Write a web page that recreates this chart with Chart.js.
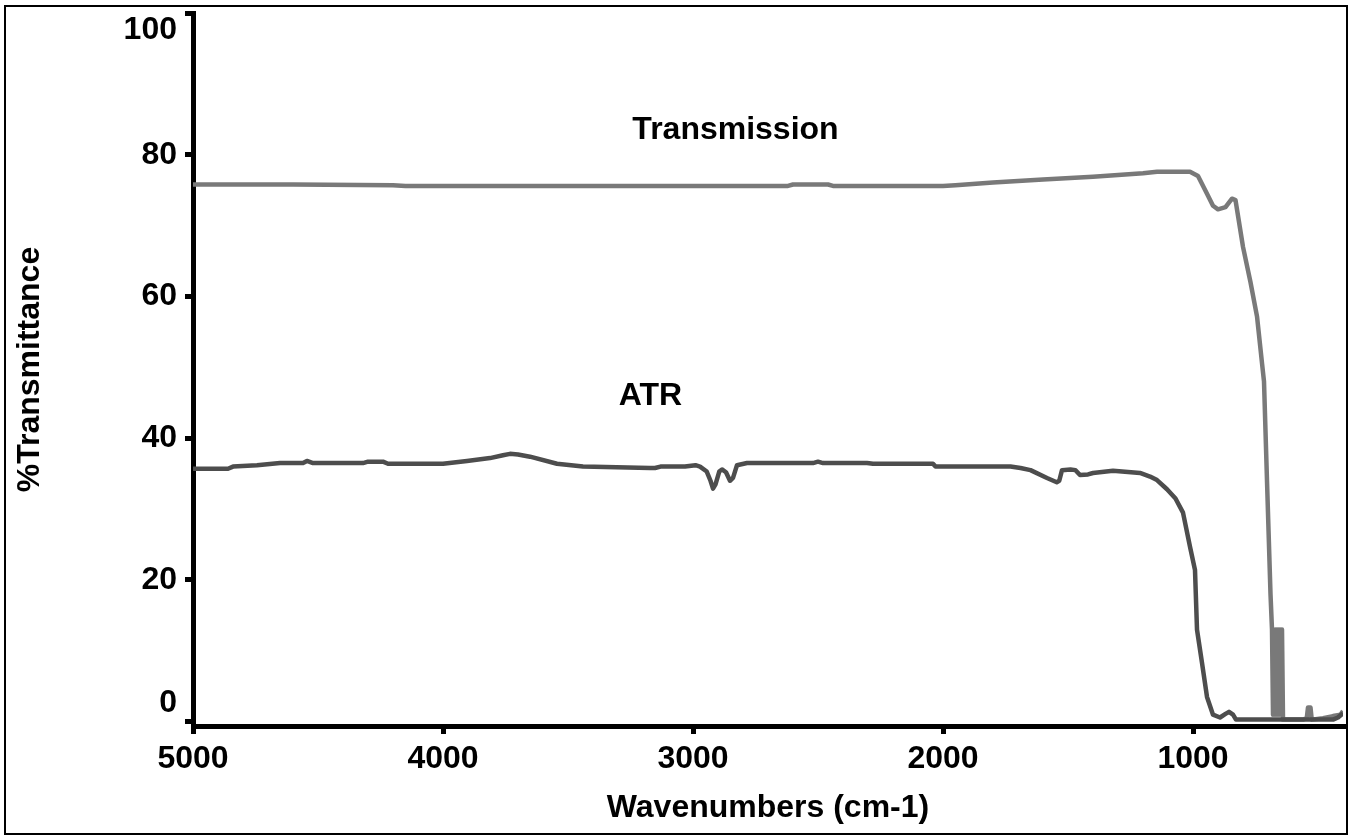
<!DOCTYPE html>
<html lang="en">
<head>
    <meta charset="UTF-8">
    <title>ATR vs Transmission Spectrum</title>
    <script src="https://cdn.jsdelivr.net/npm/chart.js"></script>
    <style>
        body {
            margin: 0;
            background-color: #fff;
        }
        #chartBox {
            width: 1350px;
            height: 836px;
        }
    </style>
</head>
<body>
    <div id="chartBox">
        <canvas id="spectrumChart" width="1350" height="836"></canvas>
    </div>

    <script>
        // Tick values
        var xTicks = [5000, 4000, 3000, 2000, 1000];
        var yTicks = [0, 20, 40, 60, 80, 100];

        // ATR spectrum (wavenumber, %T)
        var atrWn = [5000, 4860, 4840, 4744, 4652, 4560, 4544, 4520, 4320, 4300, 4240, 4220, 4000, 3904, 3812, 3760, 3732, 3700,
            3652, 3544, 3440, 3172, 3152, 3130, 3032, 2990, 2972, 2945, 2930, 2920, 2910, 2895, 2884, 2868, 2852, 2840,
            2824, 2784, 2520, 2500, 2480, 2304, 2280, 2040, 2030, 1730, 1690, 1650, 1584, 1545, 1535, 1524, 1490, 1470,
            1452, 1420, 1400, 1320, 1212, 1172, 1144, 1104, 1070, 1040, 1012, 992, 984, 964, 944, 920, 892, 870, 856,
            840, 828, 600, 440, 420, 400];
        var atrPct = [35.7, 35.7, 36.0, 36.2, 36.5, 36.5, 36.8, 36.5, 36.5, 36.7, 36.7, 36.4, 36.4, 36.8, 37.2, 37.6, 37.8, 37.7,
            37.4, 36.4, 36.0, 35.8, 35.8, 36.0, 36.0, 36.2, 36.0, 35.3, 34.0, 32.9, 33.5, 35.3, 35.6, 35.2, 34.0, 34.4,
            36.2, 36.5, 36.5, 36.7, 36.5, 36.5, 36.4, 36.4, 36.0, 36.0, 35.8, 35.5, 34.4, 33.8, 34.0, 35.5, 35.6, 35.5,
            34.8, 34.9, 35.1, 35.4, 35.1, 34.6, 34.1, 32.8, 31.5, 29.5, 24.7, 21.4, 13.0, 8.3, 3.5, 1.0, 0.6, 1.1, 1.4,
            1.0, 0.3, 0.3, 0.3, 0.6, 1.2];

        // Transmission spectrum (wavenumber, %T)
        var transWn = [5000, 4600, 4200, 4150, 3000, 2620, 2600, 2460, 2440, 2000, 1950, 1800, 1600, 1400, 1200, 1144, 1012,
            980, 944, 920, 900, 870, 844, 830, 800, 770, 744, 724, 716, 704, 690, 684, 680, 676, 672, 668, 664, 660,
            656, 652, 648, 644, 640, 620, 560, 545, 540, 530, 525, 480, 440, 410, 400];
        var transPct = [75.8, 75.8, 75.7, 75.6, 75.6, 75.6, 75.8, 75.8, 75.6, 75.6, 75.7, 76.1, 76.5, 76.9, 77.4, 77.6, 77.6,
            77.0, 74.5, 72.8, 72.3, 72.6, 73.8, 73.6, 67.0, 62.0, 57.2, 50.6, 48.0, 34.0, 18.0, 13.0, 1.0, 13.0, 1.0,
            13.0, 1.0, 13.0, 1.0, 13.0, 1.0, 13.0, 0.3, 0.3, 0.3, 0.5, 2.0, 2.0, 0.3, 0.5, 0.8, 1.0, 1.5];

        // Curve labels (text, wavenumber, %T)
        var curveLabels = ['Transmission', 'ATR'];
        var labelWn = [2830, 3170];
        var labelPct = [83.5, 46];

        function toPoints(xs, ys) {
            return xs.map(function (x, i) { return { x: x, y: ys[i] }; });
        }

        var boldFont = { family: 'Liberation Sans, Arial, sans-serif', size: 32, weight: 'bold' };

        // Draws the white background, the outer frame, the y tick labels and the curve names
        var extrasPlugin = {
            id: 'extras',
            beforeDraw: function (chart) {
                var ctx = chart.ctx;
                ctx.save();
                ctx.fillStyle = '#fff';
                ctx.fillRect(0, 0, chart.width, chart.height);
                ctx.restore();
            },
            afterDraw: function (chart) {
                var ctx = chart.ctx;
                var area = chart.chartArea;
                var xs = chart.scales.x;
                var ys = chart.scales.y;
                ctx.save();
                ctx.strokeStyle = '#000';
                ctx.lineWidth = 2;
                ctx.strokeRect(5, 6, 1342, 828);

                ctx.fillStyle = '#000';
                ctx.font = 'bold 32px "Liberation Sans", Arial, sans-serif';
                ctx.textAlign = 'right';
                ctx.textBaseline = 'middle';
                // top and bottom labels sit inside the axis ends, as in the original
                yTicks.forEach(function (v) {
                    var py = ys.getPixelForValue(v);
                    py = Math.max(py, area.top + 17);
                    py = Math.min(py, ys.getPixelForValue(0) - 19);
                    ctx.fillText(String(v), area.left - 16, py);
                });

                ctx.textAlign = 'center';
                curveLabels.forEach(function (t, i) {
                    ctx.fillText(t, xs.getPixelForValue(labelWn[i]), ys.getPixelForValue(labelPct[i]));
                });
                ctx.restore();
            }
        };

        var ctx = document.getElementById('spectrumChart').getContext('2d');
        var myChart = new Chart(ctx, {
            type: 'line',
            data: {
                datasets: [{
                    label: 'ATR',
                    data: toPoints(atrWn, atrPct),
                    borderColor: '#4d4d4d',
                    borderWidth: 4.5,
                    pointRadius: 0,
                    tension: 0,
                    borderJoinStyle: 'round'
                }, {
                    label: 'Transmission',
                    data: toPoints(transWn, transPct),
                    borderColor: '#797979',
                    borderWidth: 4.5,
                    pointRadius: 0,
                    tension: 0,
                    borderJoinStyle: 'round'
                }]
            },
            options: {
                responsive: false,
                animation: false,
                layout: { padding: { left: 0, top: 13, right: 7, bottom: 0 } },
                plugins: {
                    legend: { display: false },
                    tooltip: { enabled: false }
                },
                scales: {
                    x: {
                        type: 'linear',
                        reverse: true,
                        min: 400,
                        max: 5000,
                        afterBuildTicks: function (s) { s.ticks = xTicks.map(function (v) { return { value: v }; }); },
                        afterFit: function (s) { s.height = 110; },
                        grid: { display: true, drawOnChartArea: false, drawTicks: true, tickLength: 8, lineWidth: 5, color: '#000' },
                        border: { display: true, width: 5, color: '#000' },
                        ticks: {
                            color: '#000',
                            font: boldFont,
                            padding: 6,
                            maxRotation: 0,
                            callback: function (v) { return String(v); }
                        },
                        title: { display: true, text: 'Wavenumbers (cm-1)', color: '#000', font: boldFont, padding: { top: 0, bottom: 9 } }
                    },
                    y: {
                        min: -0.6,
                        max: 100,
                        afterBuildTicks: function (s) { s.ticks = yTicks.map(function (v) { return { value: v }; }); },
                        afterFit: function (s) { s.width = 193; },
                        grid: { display: true, drawOnChartArea: false, drawTicks: true, tickLength: 8, lineWidth: 5, color: '#000' },
                        border: { display: true, width: 5, color: '#000' },
                        ticks: { display: false },
                        title: { display: true, text: '%Transmittance', color: '#000', font: boldFont, padding: { top: 11, bottom: 0 } }
                    }
                }
            },
            plugins: [extrasPlugin]
        });
    </script>
</body>
</html>
